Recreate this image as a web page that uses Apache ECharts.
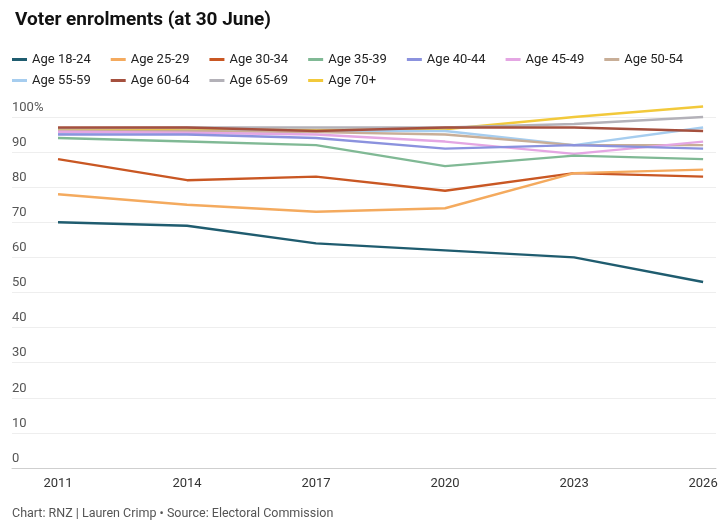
<!DOCTYPE html>
<html>
<head>
<meta charset="utf-8">
<script src="https://cdn.jsdelivr.net/npm/echarts@6/dist/echarts.min.js"></script>
<style>
  html, body { margin: 0; padding: 0; background: #fff; }
  #chart { width: 726px; height: 526px; }
</style>
</head>
<body>
<div id="chart"></div>
<script>
const years = [2011, 2014, 2017, 2020, 2023, 2026];

const age1824 = [70, 69, 64, 62, 60, 53];
const age2529 = [78, 75, 73, 74, 84, 85];
const age3034 = [88, 82, 83, 79, 84, 83];
const age3539 = [94, 93, 92, 86, 89, 88];
const age4044 = [95, 95, 94, 91, 92, 91];
const age4549 = [95.8, 95.5, 95, 93, 89.5, 93];
const age5054 = [96, 96, 95.7, 95, 92, 92];
const age5559 = [95.5, 96, 96, 96, 92, 97];
const age6064 = [97, 97, 96, 97, 97, 96];
const age6569 = [96.8, 97, 97, 97, 98, 100];
const age70 = [96.5, 96.5, 96.3, 96.5, 100, 103];

const seriesNames = ['Age 18-24', 'Age 25-29', 'Age 30-34', 'Age 35-39', 'Age 40-44', 'Age 45-49',
  'Age 50-54', 'Age 55-59', 'Age 60-64', 'Age 65-69', 'Age 70+'];
const seriesData = [age1824, age2529, age3034, age3539, age4044, age4549,
  age5054, age5559, age6064, age6569, age70];
const colors = ['#1f5c6f', '#f4aa5e', '#c95723', '#80b995', '#8b92de', '#e4a6e3',
  '#c8ae97', '#a6cdef', '#a5503e', '#b3b1b8', '#f2c93b'];
// draw order: yellow sits under the crowd until it breaks away
const zOrder = [11, 10, 9, 8, 7, 6, 5, 4, 10, 9, 3];

const font = 'Roboto, "Noto Sans", sans-serif';

var myChart = echarts.init(document.getElementById('chart'));

const series = seriesNames.map(function (name, i) {
  return {
    name: name,
    type: 'line',
    data: years.map(function (y, j) { return [y, seriesData[i][j]]; }),
    showSymbol: false,
    symbol: 'none',
    clip: false,
    z: zOrder[i],
    lineStyle: { width: 2.4, color: colors[i] },
    itemStyle: { color: colors[i] },
    emphasis: { disabled: true }
  };
});

const legendBase = {
  left: 7,
  width: 714,
  itemWidth: 15,
  itemHeight: 3,
  itemGap: 20,
  icon: 'rect',
  textStyle: { fontFamily: font, fontSize: 13, color: '#222' },
  selectedMode: false
};

myChart.setOption({
  animation: false,
  color: colors,
  textStyle: { fontFamily: font },
  title: {
    text: 'Voter enrolments (at 30 June)',
    left: 10,
    top: 6,
    textStyle: { fontFamily: font, fontSize: 19, fontWeight: 'bold', color: '#111' }
  },
  legend: [
    Object.assign({}, legendBase, { top: 48, data: seriesNames.slice(0, 7) }),
    Object.assign({}, legendBase, { top: 69, data: seriesNames.slice(7) })
  ],
  graphic: [{
    type: 'text',
    left: 12,
    top: 507,
    style: {
      text: 'Chart: RNZ | Lauren Crimp \u2022 Source: Electoral Commission',
      font: '12.5px ' + font,
      fill: '#555'
    }
  }],
  grid: { left: 12, right: 10, top: 117, bottom: 58 },
  xAxis: {
    type: 'value',
    min: 2009.93,
    max: 2026.3,
    axisLine: { show: true, lineStyle: { color: '#cfcfcf', width: 1 } },
    axisTick: { show: false },
    splitLine: { show: false },
    axisLabel: {
      customValues: years,
      formatter: function (v) { return String(v); },
      color: '#333',
      fontSize: 13,
      margin: 9,
      fontFamily: font
    }
  },
  yAxis: {
    type: 'value',
    min: 0,
    max: 100,
    interval: 10,
    axisLine: { show: false },
    axisTick: { show: false },
    splitLine: { show: true, lineStyle: { color: '#eeeeee', width: 1 } },
    axisLabel: {
      inside: true,
      margin: 0,
      verticalAlign: 'bottom',
      padding: [0, 0, 3, 0],
      color: '#555',
      fontSize: 13,
      fontFamily: font,
      formatter: function (v) { return v === 100 ? '100%' : String(v); }
    }
  },
  series: series
});
</script>
</body>
</html>
